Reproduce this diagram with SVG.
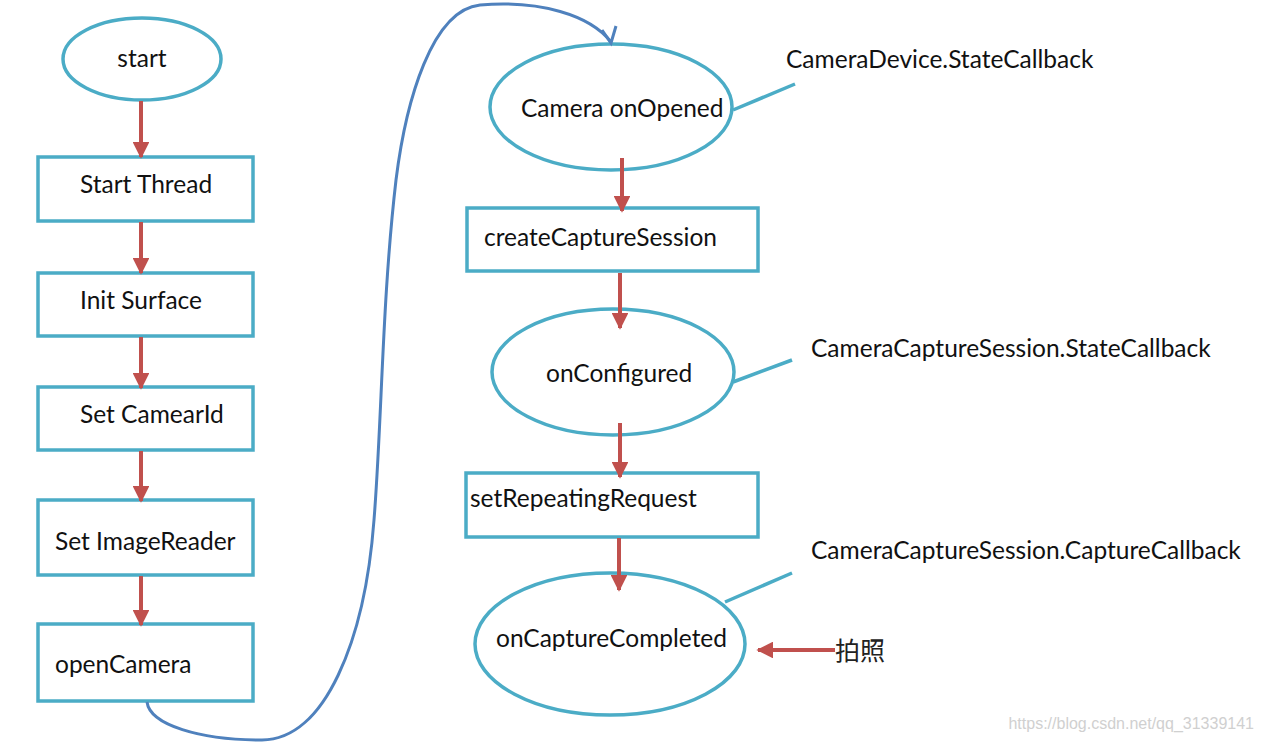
<svg xmlns="http://www.w3.org/2000/svg" width="1262" height="743" viewBox="0 0 1262 743">
<defs>
<marker id="red" viewBox="0 0 10 10" refX="9" refY="5" markerWidth="4.2" markerHeight="4.2" markerUnits="strokeWidth" orient="auto"><path d="M0,0 L10,5 L0,10 z" fill="#c0504d"/></marker>
</defs>
<style>
.n{fill:#fff;stroke:#4bacc6;stroke-width:3.5}
.t{font-family:Lato,"Open Sans","Liberation Sans",sans-serif;font-size:24.5px;fill:#111}
.a{stroke:#c0504d;stroke-width:4;fill:none;marker-end:url(#red)}
.c{stroke:#4bacc6;stroke-width:3.5;fill:none}
</style>
<rect width="1262" height="743" fill="#fff"/>
<g id="start"><ellipse class="n" cx="142" cy="59" rx="79" ry="41"/><text class="t" x="142" y="67" text-anchor="middle">start</text></g>
<g id="startThread"><rect class="n" x="38" y="157" width="215" height="64"/><text class="t" x="80" y="193">Start Thread</text></g>
<g id="initSurface"><rect class="n" x="38" y="273" width="215" height="63"/><text class="t" x="80" y="309">Init Surface</text></g>
<g id="setCameraId"><rect class="n" x="38" y="387" width="215" height="63"/><text class="t" x="80" y="423">Set CamearId</text></g>
<g id="setImageReader"><rect class="n" x="38" y="500" width="215" height="75"/><text class="t" x="55" y="550">Set ImageReader</text></g>
<g id="openCamera"><rect class="n" x="38" y="624" width="215" height="77"/><text class="t" x="55" y="673">openCamera</text></g>
<g id="onOpened"><ellipse class="n" cx="611" cy="107" rx="121" ry="63"/><text class="t" x="521" y="117">Camera onOpened</text></g>
<g id="createCaptureSession"><rect class="n" x="467" y="208" width="291" height="63"/><text class="t" x="484" y="246">createCaptureSession</text></g>
<g id="onConfigured"><ellipse class="n" cx="613" cy="372" rx="121" ry="63"/><text class="t" x="546" y="382">onConfigured</text></g>
<g id="setRepeatingRequest"><rect class="n" x="466" y="473" width="292" height="64"/><text class="t" x="470" y="507">setRepeatingRequest</text></g>
<g id="onCaptureCompleted"><ellipse class="n" cx="610" cy="644" rx="135" ry="71"/><text class="t" x="496" y="647">onCaptureCompleted</text></g>
<g id="connectors">
<path d="M147,702 C150,725 200,740 262,740 C325,740 365,640 374,520 C382,420 382,300 396,180 C406,100 432,10 480,5 C540,0 590,15 611,42" stroke="#4f81bd" stroke-width="3" fill="none"/>
<path d="M602,30 L611,43 L616,26" stroke="#4f81bd" stroke-width="3" fill="none"/>
<line class="a" x1="141" y1="101" x2="141" y2="157"/>
<line class="a" x1="141" y1="222" x2="141" y2="273"/>
<line class="a" x1="141" y1="337" x2="141" y2="388"/>
<line class="a" x1="141" y1="451" x2="141" y2="501"/>
<line class="a" x1="141" y1="576" x2="141" y2="625"/>
<line class="a" x1="622" y1="158" x2="622" y2="211"/>
<line class="a" x1="620" y1="273" x2="620" y2="328"/>
<line class="a" x1="620" y1="423" x2="620" y2="477"/>
<line class="a" x1="619" y1="538" x2="619" y2="590"/>
<line class="a" x1="835" y1="650" x2="758" y2="650"/>
<line class="c" x1="733" y1="110" x2="795" y2="84"/>
<line class="c" x1="733" y1="382" x2="792" y2="360"/>
<line class="c" x1="725" y1="602" x2="792" y2="573"/>
</g>
<g id="labels">
<text class="t" x="786" y="68">CameraDevice.StateCallback</text>
<text class="t" x="811" y="357">CameraCaptureSession.StateCallback</text>
<text class="t" x="811" y="559">CameraCaptureSession.CaptureCallback</text>
<text x="835" y="660" font-family="'Noto Sans CJK SC',sans-serif" font-size="25" fill="#222">拍照</text>
<text x="1254" y="729" text-anchor="end" font-family="'Liberation Sans',sans-serif" font-size="16" fill="#d0d0d0">https://blog.csdn.net/qq_31339141</text>
</g>
</svg>
